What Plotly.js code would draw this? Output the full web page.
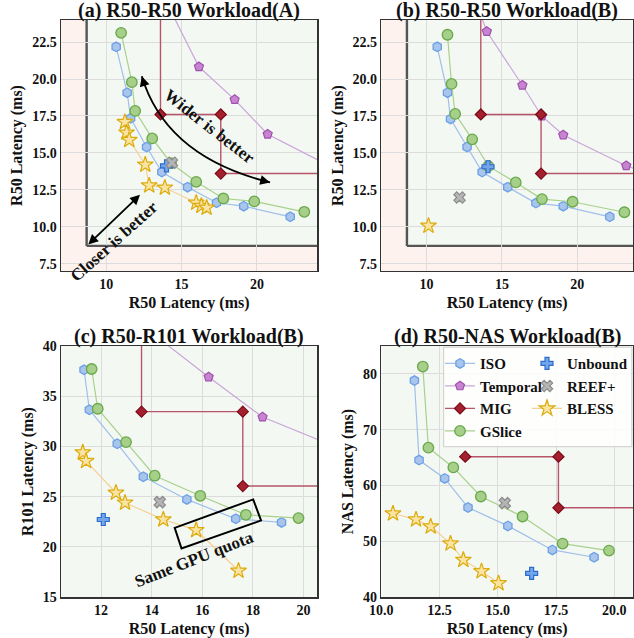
<!DOCTYPE html>
<html><head><meta charset="utf-8">
<script src="https://cdn.plot.ly/plotly-3.0.1.min.js"></script>
<style>html,body{margin:0;padding:0;background:#fff}#chart{width:634px;height:638px}</style>
</head><body><div id="chart"></div>
<script>
// ---------- data ----------
// (a) R50-R50 Workload(A)
const isoA_x = [10.66,11.39,11.62,12.68,13.69,15.40,17.32,19.12,22.21];
const isoA_y = [22.18,19.08,17.34,15.40,13.70,12.68,11.62,11.39,10.67];
const tmpA_x = [13.6,16.15,18.52,20.71,26.0];
const tmpA_y = [26.0,20.83,18.61,16.26,13.5];
const migA_x = [13.6,13.6,17.6,17.6,30];
const migA_y = [30,17.6,17.6,13.6,13.6];
const gsA_x = [10.99,11.70,11.92,13.05,14.3,15.97,17.77,19.82,23.14];
const gsA_y = [23.13,19.79,17.84,15.98,14.3,13.04,11.91,11.71,11.01];
const unbA_x = [14.0], unbA_y = [14.12];
const reefA_x = [14.36], reefA_y = [14.33];
const blessA_x = [11.24,11.35,11.53,12.59,12.85,13.89,15.97,16.31,16.66];
const blessA_y = [17.09,16.37,15.87,14.20,12.79,12.64,11.62,11.41,11.28];
// (b) R50-R50 Workload(B)
const isoB_x = [10.71,11.39,11.59,12.69,13.69,15.39,17.26,19.07,22.16];
const isoB_y = [22.18,19.08,17.30,15.40,13.70,12.68,11.60,11.39,10.67];
const tmpB_x = [13.5,14.0,16.36,17.64,19.07,23.25,25.5];
const tmpB_y = [24.6,23.22,19.58,17.5,16.21,14.13,13.3];
const migB_x = [13.6,13.6,17.6,17.6,30];
const migB_y = [30,17.6,17.6,13.6,13.6];
const gsB_x = [11.39,11.66,11.90,13.03,14.1,15.92,17.66,19.69,23.13];
const gsB_y = [23.0,19.67,17.64,15.92,14.1,13.0,11.87,11.69,10.98];
const unbB_x = [14.08], unbB_y = [14.06];
const reefB_x = [12.19], reefB_y = [11.98];
const blessB_x = [10.13], blessB_y = [10.06];
// (c) R50-R101 Workload(B)
const isoC_x = [11.33,11.54,12.64,13.67,15.39,17.32,19.13];
const isoC_y = [37.64,33.65,30.27,26.98,24.72,22.79,22.43];
const tmpC_x = [13.6,16.25,18.38,22.5];
const tmpC_y = [42.1,36.91,32.92,28.7];
const migC_x = [13.6,13.6,17.6,17.6,30];
const migC_y = [60,33.46,33.46,26.05,26.05];
const gsC_x = [11.63,11.87,12.99,14.12,15.92,17.72,19.80];
const gsC_y = [37.71,33.75,30.43,27.08,25.08,23.19,22.86];
const unbC_x = [12.09], unbC_y = [22.72];
const reefC_x = [14.32], reefC_y = [24.45];
const blessC_x = [11.28,11.41,12.59,12.95,14.46,15.76,17.43];
const blessC_y = [29.40,28.54,25.38,24.39,22.72,21.66,17.61];
// (d) R50-NAS Workload(B)
const isoD_x = [11.42,11.62,12.72,13.72,15.43,17.34,19.13];
const isoD_y = [78.80,64.55,61.26,56.05,52.75,48.44,47.13];
const migD_x = [13.6,17.6,17.6,30];
const migD_y = [65.15,65.15,55.99,55.99];
const gsD_x = [11.78,12.02,13.09,14.27,16.06,17.78,19.77];
const gsD_y = [81.32,66.77,63.23,58.02,54.43,49.58,48.32];
const unbD_x = [16.45], unbD_y = [44.25];
const reefD_x = [15.30], reefD_y = [56.83];
const blessD_x = [10.50,11.49,12.12,12.97,13.52,14.30,15.03];
const blessD_y = [54.97,53.89,52.63,49.58,46.65,44.61,42.46];

const seriesNames = ['ISO','Temporal','MIG','GSlice','Unbound','REEF+','BLESS'];
const titles = ['(a) R50-R50 Workload(A)','(b) R50-R50 Workload(B)','(c) R50-R101 Workload(B)','(d) R50-NAS Workload(B)'];
const xTitle = 'R50 Latency (ms)';
const yTitles = ['R50 Latency (ms)','R50 Latency (ms)','R101 Latency (ms)','NAS Latency (ms)'];
const qosBound = 8.7;

// ---------- styles ----------
const FONT = 'Liberation Serif, Times New Roman, serif';
const PINK = '#fdf2ed', GREEN = '#f3f9f2';
const style = {
  'ISO':     {mode:'lines+markers', line:{color:'#a0bfea',width:1.2}, marker:{symbol:'hexagon',size:9.5,color:'#a9c5ec',line:{color:'#6b9fe6',width:1.3}}},
  'Temporal':{mode:'lines+markers', line:{color:'#caa5da',width:1.2}, marker:{symbol:'pentagon',size:9.5,color:'#c585cf',line:{color:'#a24fb0',width:1.2}}},
  'MIG':     {mode:'lines+markers', line:{color:'#b8546a',width:1.4}, marker:{symbol:'diamond',size:8.5,color:'#a3202e',line:{color:'#7c0a18',width:1.2}}},
  'GSlice':  {mode:'lines+markers', line:{color:'#a9d08d',width:1.2}, marker:{symbol:'circle',size:10.5,color:'#a6cf89',line:{color:'#69a84b',width:1.3}}},
  'Unbound': {mode:'markers', marker:{symbol:'cross',size:10,color:'#72a5ea',line:{color:'#2e6ccc',width:1.2}}},
  'REEF+':   {mode:'markers', marker:{symbol:'x',size:10,color:'#b5b5b5',line:{color:'#8c8c8c',width:1.2}}},
  'BLESS':   {mode:'lines+markers', line:{color:'#f6cf93',width:1.2}, marker:{symbol:'star',size:12,color:'#fae3a3',line:{color:'#dcac0c',width:1.2}}}
};
const legendOf = {'ISO':'legend','Temporal':'legend','MIG':'legend','GSlice':'legend','Unbound':'legend2','REEF+':'legend2','BLESS':'legend2'};

const traces = [];
function add(name, x, y, k, show){
  const s = style[name];
  traces.push(Object.assign({type:'scatter', name:name, x:x, y:y,
    xaxis:'x'+(k===1?'':k), yaxis:'y'+(k===1?'':k),
    showlegend:show, legend:legendOf[name], hoverinfo:'skip'}, JSON.parse(JSON.stringify(s))));
}
const sets = [
  [isoA_x,isoA_y,tmpA_x,tmpA_y,migA_x,migA_y,gsA_x,gsA_y,unbA_x,unbA_y,reefA_x,reefA_y,blessA_x,blessA_y],
  [isoB_x,isoB_y,tmpB_x,tmpB_y,migB_x,migB_y,gsB_x,gsB_y,unbB_x,unbB_y,reefB_x,reefB_y,blessB_x,blessB_y],
  [isoC_x,isoC_y,tmpC_x,tmpC_y,migC_x,migC_y,gsC_x,gsC_y,unbC_x,unbC_y,reefC_x,reefC_y,blessC_x,blessC_y],
  [isoD_x,isoD_y,null,null,migD_x,migD_y,gsD_x,gsD_y,unbD_x,unbD_y,reefD_x,reefD_y,blessD_x,blessD_y]
];
sets.forEach((s,i)=>{
  seriesNames.forEach((n,j)=>{
    if(s[2*j]) add(n, s[2*j], s[2*j+1], i+1, i===0);
  });
});

// ---------- layout ----------
const tickF = {family:FONT,size:14,color:'#111',weight:'bold'};
const titleF = {family:FONT,size:16,color:'#111',weight:'bold'};
function ax(domain, range, extra, title, anchor){
  return Object.assign({domain:domain, range:range, anchor:anchor, showline:true, mirror:true,
    linecolor:'#333', linewidth:1.5, showgrid:true, gridcolor:'#dcdcdc', gridwidth:1,
    zeroline:false, ticks:'', tickfont:tickF, automargin:false,
    title:{text:title, font:titleF, standoff:5}}, extra);
}
const DX1=[0,0.448], DX2=[0.56,1], DY1=[0.565,1], DY2=[0,0.435];
const layout = {
  width:634, height:638, margin:{l:61,r:1,t:20,b:41},
  paper_bgcolor:'#fff', plot_bgcolor:GREEN,
  font:{family:FONT, color:'#111'},
  xaxis: ax(DX1,[7,24],{tickvals:[10,15,20]},xTitle,'y'),
  yaxis: ax(DY1,[7,24],{tickvals:[7.5,10,12.5,15,17.5,20,22.5],tickformat:'.1f'},yTitles[0],'x'),
  xaxis2: ax(DX2,[7,23.7],{tickvals:[10,15,20]},xTitle,'y2'),
  yaxis2: ax(DY1,[7,24],{tickvals:[7.5,10,12.5,15,17.5,20,22.5],tickformat:'.1f'},yTitles[1],'x2'),
  xaxis3: ax(DX1,[10.42,20.54],{dtick:2},xTitle,'y3'),
  yaxis3: ax(DY2,[15,40],{dtick:5},yTitles[2],'x3'),
  xaxis4: ax(DX2,[10,20.8],{dtick:2.5,tickformat:'.1f'},xTitle,'y4'),
  yaxis4: ax(DY2,[40,85],{dtick:10},yTitles[3],'x4'),
  legend: {x:0.6626, y:0.433, xanchor:'left', yanchor:'top', bgcolor:'rgba(0,0,0,0)', borderwidth:0,
           font:{family:FONT,size:15,color:'#111',weight:'bold'}, tracegroupgap:0},
  legend2:{x:0.8147, y:0.433, xanchor:'left', yanchor:'top', bgcolor:'rgba(0,0,0,0)', borderwidth:0,
           font:{family:FONT,size:15,color:'#111',weight:'bold'}, tracegroupgap:0},
  shapes: [],
  annotations: []
};
// QoS regions in (a) and (b)
[['x','y',24],['x2','y2',23.7]].forEach(([xr,yr,xm])=>{
  layout.shapes.push({type:'rect',xref:xr,yref:yr,x0:7,x1:qosBound,y0:7,y1:24,fillcolor:PINK,line:{width:0},layer:'below'});
  layout.shapes.push({type:'rect',xref:xr,yref:yr,x0:7,x1:xm,y0:7,y1:qosBound,fillcolor:PINK,line:{width:0},layer:'below'});
  layout.shapes.push({type:'line',xref:xr,yref:yr,x0:qosBound,x1:qosBound,y0:qosBound,y1:24,line:{color:'#555',width:2.4},layer:'below'});
  layout.shapes.push({type:'line',xref:xr,yref:yr,x0:qosBound,x1:xm,y0:qosBound,y1:qosBound,line:{color:'#555',width:2.4},layer:'below'});
});
// legend box
layout.shapes.push({type:'rect',xref:'paper',yref:'paper',x0:0.669,x1:0.998,y0:0.2605,y1:0.433,
  fillcolor:'rgba(255,255,255,0.85)',line:{color:'#cccccc',width:1},layer:'above'});
// curved "wider is better" arrow
layout.shapes.push({type:'path',xref:'x',yref:'y',path:'M 12.36,20.19 Q 13.97,14.74 20.87,13.0',line:{color:'#000',width:1.8},layer:'above'});
// "same GPU quota" box
layout.shapes.push({type:'path',xref:'x3',yref:'y3',path:'M 14.91,21.89 L 18.01,24.72 L 18.32,22.62 L 15.18,19.83 Z',line:{color:'#000',width:2},layer:'above'});

// subplot titles
const tX = [0.224,0.78,0.224,0.78], tY=[1,1,0.435,0.435];
titles.forEach((t,i)=>layout.annotations.push({text:t,xref:'paper',yref:'paper',x:tX[i],y:tY[i],xanchor:'center',yanchor:'bottom',
  showarrow:false,font:{family:FONT,size:20,color:'#111',weight:'bold'},borderpad:0,yshift:-3}));
const annF = {family:FONT,size:17,color:'#111',weight:'bold'};
layout.annotations.push({text:'Wider is better',xref:'x',yref:'y',x:16.85,y:16.8,textangle:38,showarrow:false,font:annF});
layout.annotations.push({text:'Closer is better',xref:'x',yref:'y',x:10.52,y:8.99,textangle:-42,showarrow:false,font:annF});
layout.annotations.push({text:'Same GPU quota',xref:'x3',yref:'y3',x:15.66,y:18.75,textangle:-21.5,showarrow:false,font:annF});
// arrows
layout.annotations.push({text:'',xref:'x',yref:'y',x:12.24,y:12.16,axref:'x',ayref:'y',ax:8.71,ay:8.70,showarrow:true,arrowside:'end+start',arrowhead:2,arrowsize:1.1,arrowwidth:1.8,arrowcolor:'#000',standoff:0,startstandoff:0});
layout.annotations.push({text:'',xref:'x',yref:'y',x:12.36,y:20.19,ax:3,ay:10,showarrow:true,arrowhead:2,arrowsize:1.1,arrowwidth:1.8,arrowcolor:'#000',standoff:0});
layout.annotations.push({text:'',xref:'x',yref:'y',x:20.87,y:13.0,ax:-10,ay:-2.5,showarrow:true,arrowhead:2,arrowsize:1.1,arrowwidth:1.8,arrowcolor:'#000',standoff:0});

Plotly.newPlot('chart', traces, layout, {displayModeBar:false, staticPlot:true});
</script></body></html>
